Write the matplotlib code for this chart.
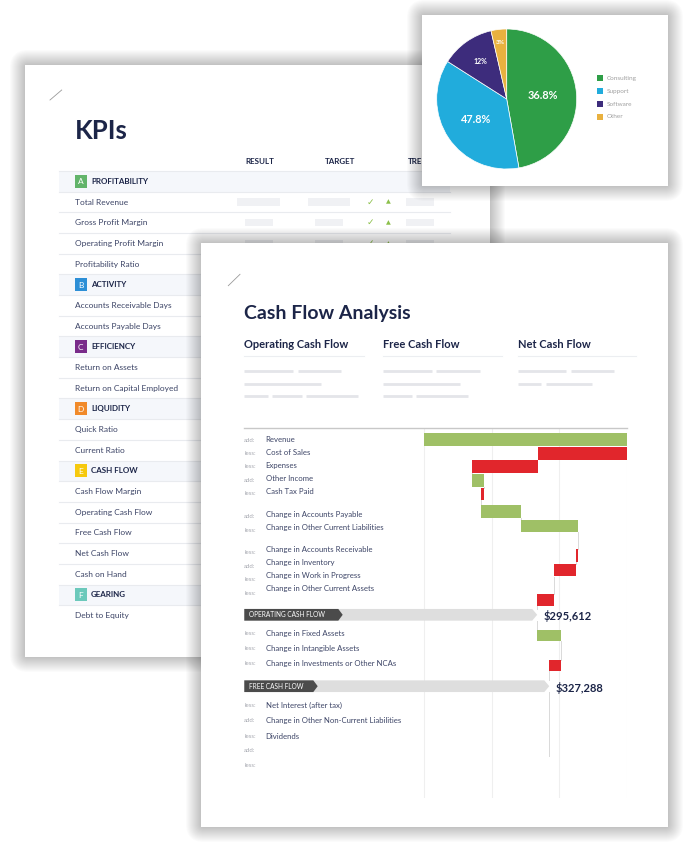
import numpy as np
import matplotlib
matplotlib.use("Agg")
import matplotlib.pyplot as plt
from matplotlib.patches import Rectangle, FancyBboxPatch, Polygon

plt.rcParams['font.family'] = ['Lato', 'DejaVu Sans']

# ---------------- data ----------------
# KPI page
kpi_columns = ["RESULT", "TARGET", "TREND"]
kpi_letters = ["A", "B", "C", "D", "E", "F"]
kpi_sections = ["PROFITABILITY", "ACTIVITY", "EFFICIENCY", "LIQUIDITY", "CASH FLOW", "GEARING"]
kpi_badge_colors = ["#62b46a", "#2d8fd6", "#7a2c8a", "#f18a2a", "#f6c90e", "#6cc9bb"]
kpi_metrics = [
    ["Total Revenue", "Gross Profit Margin", "Operating Profit Margin", "Profitability Ratio"],
    ["Accounts Receivable Days", "Accounts Payable Days"],
    ["Return on Assets", "Return on Capital Employed"],
    ["Quick Ratio", "Current Ratio"],
    ["Cash Flow Margin", "Operating Cash Flow", "Free Cash Flow", "Net Cash Flow", "Cash on Hand"],
    ["Debt to Equity"],
]

# pie page
pie_categories = ["Consulting", "Support", "Software", "Other"]
pie_sizes = [47.2, 36.8, 12.4, 3.6]
pie_labels = ["36.8%", "47.8%", "12%", "3%"]
pie_colors = ["#2e9e47", "#21acdc", "#3d2c7c", "#e9b13f"]

# cash flow page
cf_headers = ["Operating Cash Flow", "Free Cash Flow", "Net Cash Flow"]
op_labels = ["Revenue", "Cost of Sales", "Expenses", "Other Income", "Cash Tax Paid",
             "Change in Accounts Payable", "Change in Other Current Liabilities",
             "Change in Accounts Receivable", "Change in Inventory",
             "Change in Work in Progress", "Change in Other Current Assets"]
op_prefix = ["add:", "less:", "less:", "add:", "less:", "add:", "less:",
             "less:", "add:", "less:", "less:"]
op_values = [530000, -233200, -172400, 31300, -6200, 104900, 147600,
             -4300, 0, -58600, -43488]
fcf_labels = ["Change in Fixed Assets", "Change in Intangible Assets",
              "Change in Investments or Other NCAs"]
fcf_prefix = ["less:", "less:", "less:"]
fcf_values = [62000, 0, -30324]
ncf_labels = ["Net Interest (after tax)", "Change in Other Non-Current Liabilities",
              "Dividends", "", ""]
ncf_prefix = ["less:", "add:", "less:", "add:", "less:"]
banner_names = ["OPERATING CASH FLOW", "FREE CASH FLOW"]

# ---------------- layout / style ----------------
NAVY = "#1c2548"
TEXT = "#3c4466"
GREY_TXT = "#a6a8b0"
GREEN = "#9fc066"
RED = "#e1262c"

KPI_TOP, KPI_PITCH = 171.0, 20.68
KPI_X0, KPI_X1 = 59, 450
kpi_col_x = [259.7, 340, 421.5]
ph_result = [(258.5, 43), (259, 28)]   # (centre, width) first row, then the rest
ph_target = [(329, 42), (329, 28)]
VISIBLE_METRIC_ROWS = 3                # rows not covered by the cash flow sheet

op_label_y = [439.3, 452.3, 465.3, 478.3, 492, 514.3, 527.3, 549.3, 562.7, 575.3, 588.3]
op_prefix_y = [440, 453.3, 466.7, 480, 493.3, 516.7, 530.7, 552.3, 566, 579.3, 593.3]
op_bar_y = [439.5, 453.3, 466.5, 480.5, 494.2, 511.3, 525.8, 555.5, 562.7, 570.3, 599.7]
fcf_label_y = [633.7, 648.7, 663.7]
fcf_bar_y = [635.7, 648.7, 665.2]
ncf_label_y = [705.3, 721, 736.3, 750.7, 765.3]
banner_y = [614.8, 686.2]
banner_dark_w = [94, 69]

fig = plt.figure(figsize=(7, 8.6), dpi=100)
ax = fig.add_axes([0, 0, 1, 1])
ax.set_xlim(0, 700)
ax.set_ylim(860, 0)
ax.axis('off')


def page(x0, y0, x1, y1, z):
    # soft drop shadow + white sheet
    for k in range(15):
        d = 15 - k
        ax.add_patch(FancyBboxPatch((x0, y0), x1 - x0, y1 - y0,
                                    boxstyle=f"round,pad={d},rounding_size={d + 3}",
                                    fc='black', ec='none', alpha=0.014, zorder=z))
    ax.add_patch(Rectangle((x0, y0), x1 - x0, y1 - y0, fc='white', ec='none', zorder=z + 0.1))


# ================= KPI page =================
page(25, 65, 490, 657, 1)
z = 2
ax.plot([50, 61.7], [100, 90], color='#9a9a9a', lw=0.6, zorder=z)
ax.text(74.5, 131, "KPIs", fontsize=18.5, color=NAVY, fontweight='bold',
        ha='left', va='center', zorder=z)
for name, xc in zip(kpi_columns, kpi_col_x):
    ax.text(xc, 161, name, fontsize=5.8, fontweight='bold', color=NAVY,
            ha='center', va='center', zorder=z)

row = 0
metric_idx = 0
for letter, sec, col, mets in zip(kpi_letters, kpi_sections, kpi_badge_colors, kpi_metrics):
    yt = KPI_TOP + row * KPI_PITCH
    yc = yt + KPI_PITCH / 2
    ax.add_patch(Rectangle((KPI_X0, yt), KPI_X1 - KPI_X0, KPI_PITCH, fc='#f5f7fb', ec='none', zorder=z))
    ax.add_patch(Rectangle((74.5, yc - 6.5), 12, 13, fc=col, ec='none', zorder=z + 0.2))
    ax.text(80.5, yc + 0.3, letter, color='white', fontsize=6, ha='center', va='center', zorder=z + 0.3)
    ax.text(91, yc, sec, fontsize=5.8, fontweight='bold', color=NAVY, ha='left', va='center', zorder=z + 0.3)
    row += 1
    for m in mets:
        yc = KPI_TOP + (row + 0.5) * KPI_PITCH
        ax.text(74.7, yc, m, fontsize=6.0, color=TEXT, ha='left', va='center', zorder=z + 0.3)
        if metric_idx < VISIBLE_METRIC_ROWS:
            rc, rw = ph_result[min(metric_idx, 1)]
            tc, tw = ph_target[min(metric_idx, 1)]
            for c, w in [(rc, rw), (tc, tw), (420, 28)]:
                ax.add_patch(Rectangle((c - w / 2, yc - 3.7), w, 7.4, fc='#f0f1f4', ec='none', zorder=z + 0.2))
            ax.text(370, yc, "✓", fontsize=6.5, color='#8cc04b', ha='center', va='center',
                    fontweight='bold', zorder=z + 0.3)
            ax.text(388, yc, "▲", fontsize=4.5, color='#8cc04b', ha='center', va='center', zorder=z + 0.3)
        row += 1
        metric_idx += 1
for k in range(row):
    ax.plot([KPI_X0, KPI_X1], [KPI_TOP + k * KPI_PITCH] * 2, color='#e9ebef', lw=0.8, zorder=z + 0.1)

# ================= pie page =================
page(422, 15, 668, 186, 4)
ax_pie = fig.add_axes([436.7 / 700, 1 - 169 / 860, 140 / 700, 140 / 860])
wedges, _ = ax_pie.pie(pie_sizes, colors=pie_colors, startangle=90, counterclock=False,
                       wedgeprops=dict(ec='white', lw=0.5))
ax_pie.set_xlim(-1, 1)
ax_pie.set_ylim(-1, 1)
ax_pie.set_aspect('equal')
ax_pie.axis('off')
label_r = [0.52, 0.53, 0.65, 0.81]
label_fs = [7.8, 7.8, 5.0, 4.6]
for w, lab, r, fs in zip(wedges, pie_labels, label_r, label_fs):
    w.set_clip_on(False)
    mid = np.deg2rad((w.theta1 + w.theta2) / 2)
    ax_pie.text(r * np.cos(mid), r * np.sin(mid), lab, color='white', fontsize=fs,
                fontweight='bold', ha='center', va='center')
for i, (cat, col) in enumerate(zip(pie_categories, pie_colors)):
    yy = 78.3 + i * 12.9
    ax.add_patch(Rectangle((596.7, yy - 3), 6, 6, fc=col, ec='none', zorder=5))
    ax.text(606.7, yy, cat, fontsize=4.6, color='#a0a0a0', ha='left', va='center', zorder=5)

# ================= cash flow page =================
page(201, 243, 668, 827, 6)
z = 7
ax.plot([228.3, 240], [285.7, 274.3], color='#9a9a9a', lw=0.6, zorder=z)
ax.text(244, 313, "Cash Flow Analysis", fontsize=14, color=NAVY, fontweight='bold',
        ha='left', va='center', zorder=z)
hdr_x = [(244, 364), (382.7, 502), (517.7, 636)]
for name, (x0, x1) in zip(cf_headers, hdr_x):
    ax.text(x0, 345, name, fontsize=8, color=NAVY, fontweight='bold',
            ha='left', va='center', zorder=z)
    ax.plot([x0, x1], [355.7, 355.7], color='#eceef1', lw=0.8, zorder=z)
placeholder_segs = [
    (244.3, 293.3, 371), (297.7, 341, 371), (244.3, 321, 383.7),
    (244.3, 268, 396), (272.3, 302, 396), (306, 358, 396),
    (382.7, 432, 371), (436, 479.7, 371), (382.7, 459.7, 383.7),
    (382.7, 412, 396), (416.3, 468, 396),
    (517.7, 566.3, 371), (570.7, 614, 371), (517.7, 541.3, 383.7), (545.7, 592.3, 383.7),
]
for x0, x1, yy in placeholder_segs:
    ax.plot([x0, x1], [yy, yy], color='#e4e5e9', lw=2, solid_capstyle='butt', zorder=z)

# row labels
for labs, prefs, ly, py in [(op_labels, op_prefix, op_label_y, op_prefix_y),
                            (fcf_labels, fcf_prefix, fcf_label_y, fcf_label_y),
                            (ncf_labels, ncf_prefix, ncf_label_y, ncf_label_y)]:
    for lab, pre, y1, y2 in zip(labs, prefs, ly, py):
        ax.text(244.3, y2, pre, fontsize=4.4, color=GREY_TXT, ha='left', va='center', zorder=z)
        ax.text(265.7, y1, lab, fontsize=5.6, color=TEXT, ha='left', va='center', zorder=z)

# waterfall axes
PX_LEFT, PX_ZERO, PX_RIGHT = 244.3, 424.3, 626.7
WF_TOP, WF_BOTTOM = 428.3, 798
op_cum = np.cumsum(op_values)
op_total = op_cum[-1]
fcf_cum = op_total + np.cumsum(fcf_values)
fcf_total = fcf_cum[-1]
vmax = max(op_cum.max(), fcf_cum.max())
scale = vmax / (PX_RIGHT - PX_ZERO)        # dollars per pixel
vmin = -(PX_ZERO - PX_LEFT) * scale

ax_wf = fig.add_axes([PX_LEFT / 700, 1 - WF_BOTTOM / 860,
                      (PX_RIGHT - PX_LEFT) / 700, (WF_BOTTOM - WF_TOP) / 860])
ax_wf.set_xlim(vmin, vmax)
ax_wf.set_ylim(WF_BOTTOM, WF_TOP)
ax_wf.axis('off')
ax_wf.patch.set_visible(False)

ax_wf.vlines(np.linspace(0, vmax, 4), WF_TOP, WF_BOTTOM, color='#efefef', lw=0.8, zorder=0)
ax_wf.plot([vmin, vmax], [WF_TOP, WF_TOP], color='#c8c8c8', lw=1, clip_on=False, zorder=1)

steps = []   # (level after item, top, bottom)


def draw_bars(values, ys, start, h):
    level = start
    for v, y in zip(values, ys):
        if v != 0:
            ax_wf.barh(y, abs(v), left=min(level, level + v), height=h,
                       color=GREEN if v > 0 else RED, zorder=3)
            steps.append((level + v, y - h / 2, y + h / 2))
        level += v
    return level


def draw_banner(total, y, name, dark_w, h=11.7):
    tip = 5 * scale
    ax_wf.add_patch(Polygon([(vmin, y - h / 2), (total - tip, y - h / 2), (total, y),
                             (total - tip, y + h / 2), (vmin, y + h / 2)],
                            closed=True, fc='#dedede', ec='none', zorder=2))
    xd = vmin + dark_w * scale
    ax_wf.add_patch(Polygon([(vmin, y - h / 2), (xd, y - h / 2), (xd + 4.4 * scale, y),
                             (xd, y + h / 2), (vmin, y + h / 2)],
                            closed=True, fc='#4b4b4b', ec='none', zorder=3))
    ax_wf.text(vmin + 5 * scale, y, name, fontsize=4.7, color='white',
               ha='left', va='center', zorder=4)
    ax_wf.text(total + 6 * scale, y + 1.5, f"${total:,.0f}", fontsize=8, color=NAVY,
               fontweight='bold', ha='left', va='center', zorder=4)
    steps.append((total, y - h / 2, y + h / 2))


draw_bars(op_values, op_bar_y, 0, 12.4)
draw_banner(op_total, banner_y[0], banner_names[0], banner_dark_w[0])
draw_bars(fcf_values, fcf_bar_y, op_total, 10.8)
draw_banner(fcf_total, banner_y[1], banner_names[1], banner_dark_w[1])

for (lvl, _, bot), (_, top, _) in zip(steps[:-1], steps[1:]):
    ax_wf.plot([lvl, lvl], [bot, top], color='#d9d9d9', lw=0.7, zorder=1)
ax_wf.plot([fcf_total, fcf_total], [steps[-1][2], ncf_label_y[3] + 5],
           color='#d9d9d9', lw=0.7, zorder=1)

fig.savefig("out.png", dpi=100, facecolor='white')
